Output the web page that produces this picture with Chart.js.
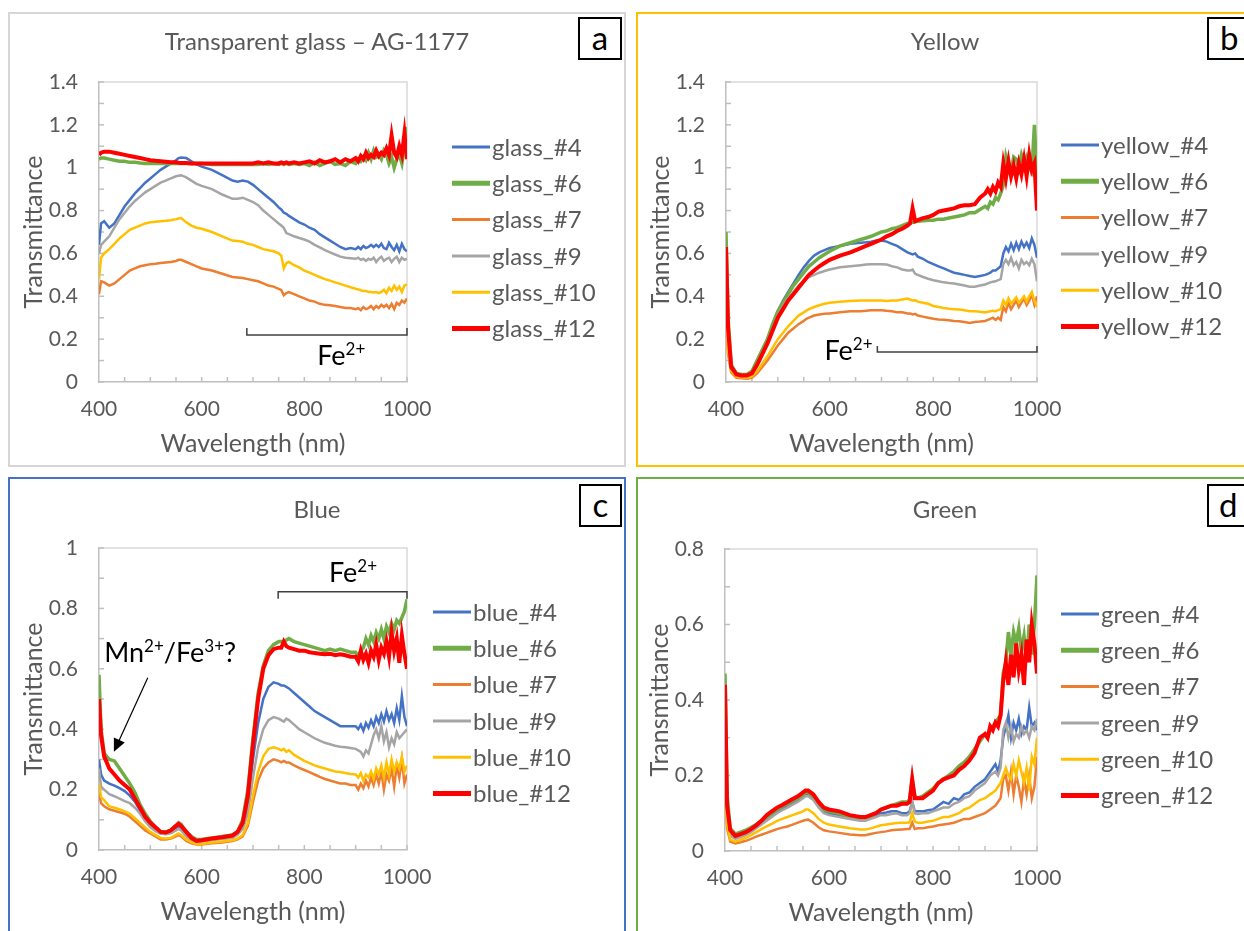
<!DOCTYPE html>
<html>
<head>
<meta charset="utf-8">
<script src="https://cdn.jsdelivr.net/npm/chart.js@4.4.1/dist/chart.umd.min.js"></script>
<style>
body { margin:0; background:#fff; width:1244px; height:931px; overflow:hidden; position:relative; font-family: Lato, "Open Sans", sans-serif; }
.panel { position:absolute; box-sizing:border-box; border:2px solid; }
canvas { position:absolute; }
.title { position:absolute; font-size:24px; line-height:24px; color:#595959; text-align:center; width:618px; }
.tag { position:absolute; box-sizing:border-box; border:2px solid #000; background:#fff; font-size:33px; line-height:36px; text-align:center; color:#000; }
</style>
</head>
<body>
<div class="panel" style="left:8px;top:12px;width:618px;height:455px;border-color:#d6d6d6"></div>
<div class="panel" style="left:636px;top:12px;width:618px;height:455px;border-color:#FFC000"></div>
<div class="panel" style="left:8px;top:477px;width:618px;height:470px;border-color:#4472C4"></div>
<div class="panel" style="left:636px;top:477px;width:618px;height:470px;border-color:#70AD47"></div>

<canvas id="chartA" width="618" height="455" style="left:8px;top:12px"></canvas>
<canvas id="chartB" width="618" height="455" style="left:636px;top:12px"></canvas>
<canvas id="chartC" width="618" height="454" style="left:8px;top:477px"></canvas>
<canvas id="chartD" width="618" height="454" style="left:636px;top:477px"></canvas>

<div class="title" style="left:8px;top:29px">Transparent glass – AG-1177</div>
<div class="title" style="left:636px;top:29px">Yellow</div>
<div class="title" style="left:8px;top:497px">Blue</div>
<div class="title" style="left:636px;top:497px">Green</div>

<div class="tag" style="left:578px;top:17px;width:44px;height:43px">a</div>
<div class="tag" style="left:1207px;top:17px;width:44px;height:43px;text-align:left;padding-left:11px">b</div>
<div class="tag" style="left:579px;top:484px;width:43px;height:43px">c</div>
<div class="tag" style="left:1207px;top:484px;width:44px;height:43px;text-align:left;padding-left:10px">d</div>

<script>
// wavelength grid (nm), shared by all panels
const wl = [400,404,410,420,430,440,450,460,470,480,490,
  500,510,520,530,540,550,555,560,570,580,590,
  600,620,640,660,670,680,690,
  700,710,720,730,740,750,755,760,765,770,780,790,
  800,810,820,830,840,850,860,870,880,890,
  900,905,910,915,920,925,930,935,940,945,950,955,960,965,970,975,980,985,990,995,1000];

const sampleIds = ['#4', '#6', '#7', '#9', '#10', '#12'];

// (a) transparent glass
const glass4 = [0.64,0.74,0.75,0.72,0.74,0.78,0.82,0.85,0.88,0.905,0.93,
  0.95,0.97,0.99,1.005,1.02,1.035,1.045,1.048,1.045,1.03,1.015,
  1.005,0.99,0.965,0.94,0.935,0.94,0.935,
  0.92,0.9,0.88,0.86,0.84,0.815,0.805,0.79,0.785,0.775,0.76,0.745,
  0.735,0.72,0.71,0.69,0.675,0.66,0.645,0.63,0.62,0.625,
  0.62,0.63,0.62,0.635,0.625,0.63,0.64,0.63,0.64,0.63,0.645,0.625,0.62,0.65,0.63,0.615,0.64,0.61,0.645,0.62,0.61];
const glass6 = [1.04,1.045,1.045,1.04,1.035,1.03,1.03,1.025,1.025,1.022,1.02,
  1.02,1.02,1.02,1.02,1.02,1.02,1.02,1.02,1.02,1.02,1.02,
  1.02,1.015,1.015,1.015,1.015,1.015,1.015,
  1.015,1.015,1.02,1.015,1.02,1.015,1.02,1.015,1.02,1.015,1.02,1.015,
  1.02,1.01,1.025,1.01,1.02,1.03,1.015,1.02,1.01,1.03,
  1.02,1.04,1.03,1.05,1.035,1.07,1.04,1.08,1.05,1.06,1.04,1.08,1.06,1.02,1.05,1.0,1.04,1.06,1.02,1.1,1.19];
const glass7 = [0.41,0.47,0.465,0.45,0.46,0.48,0.5,0.52,0.53,0.54,0.545,
  0.55,0.552,0.555,0.558,0.56,0.565,0.57,0.57,0.56,0.55,0.54,
  0.53,0.52,0.505,0.49,0.488,0.485,0.48,
  0.475,0.47,0.46,0.45,0.445,0.435,0.43,0.405,0.415,0.42,0.41,0.4,
  0.39,0.38,0.375,0.365,0.36,0.358,0.355,0.35,0.345,0.345,
  0.34,0.345,0.335,0.35,0.34,0.345,0.355,0.34,0.355,0.345,0.36,0.35,0.36,0.345,0.365,0.34,0.37,0.36,0.38,0.37,0.39];
const glass9 = [0.6,0.64,0.655,0.68,0.72,0.76,0.79,0.82,0.845,0.865,0.885,
  0.9,0.915,0.93,0.94,0.95,0.96,0.963,0.965,0.955,0.94,0.925,
  0.915,0.9,0.875,0.855,0.855,0.86,0.85,
  0.84,0.825,0.8,0.78,0.76,0.74,0.73,0.72,0.695,0.69,0.68,0.672,
  0.665,0.655,0.64,0.628,0.615,0.605,0.595,0.585,0.58,0.578,
  0.575,0.58,0.57,0.575,0.565,0.575,0.57,0.58,0.56,0.575,0.585,0.565,0.575,0.58,0.56,0.575,0.585,0.56,0.58,0.57,0.575];
const glass10 = [0.48,0.58,0.6,0.62,0.645,0.67,0.69,0.71,0.72,0.73,0.74,
  0.745,0.748,0.75,0.752,0.755,0.76,0.763,0.765,0.745,0.73,0.72,
  0.715,0.7,0.68,0.66,0.658,0.655,0.645,
  0.64,0.63,0.62,0.615,0.61,0.6,0.59,0.53,0.555,0.56,0.545,0.535,
  0.52,0.51,0.5,0.49,0.48,0.473,0.465,0.458,0.45,0.442,
  0.435,0.432,0.428,0.425,0.425,0.42,0.42,0.418,0.42,0.415,0.42,0.43,0.415,0.44,0.425,0.45,0.43,0.445,0.42,0.45,0.455];
const glass12 = [1.06,1.07,1.075,1.075,1.07,1.065,1.06,1.055,1.05,1.045,1.04,
  1.035,1.032,1.03,1.028,1.025,1.025,1.023,1.022,1.022,1.02,1.02,
  1.02,1.02,1.02,1.02,1.02,1.02,1.02,
  1.02,1.025,1.02,1.025,1.02,1.02,1.025,1.02,1.025,1.02,1.025,1.02,
  1.025,1.03,1.02,1.035,1.025,1.03,1.04,1.025,1.04,1.03,
  1.045,1.03,1.055,1.04,1.07,1.045,1.06,1.05,1.08,1.055,1.07,1.06,1.09,1.06,1.15,1.07,1.05,1.1,1.06,1.16,1.04];

// (b) yellow
const yellow4 = [0.45,0.2,0.06,0.03,0.03,0.03,0.045,0.09,0.15,0.2,0.27,
  0.33,0.38,0.42,0.46,0.5,0.535,0.55,0.565,0.59,0.605,0.615,
  0.625,0.635,0.645,0.65,0.652,0.655,0.66,
  0.66,0.655,0.645,0.635,0.62,0.605,0.6,0.595,0.6,0.585,0.575,0.56,
  0.55,0.54,0.53,0.52,0.51,0.505,0.5,0.495,0.49,0.495,
  0.5,0.505,0.51,0.52,0.52,0.53,0.54,0.6,0.63,0.61,0.645,0.615,0.65,0.62,0.655,0.63,0.65,0.625,0.67,0.64,0.58];
const yellow6 = [0.7,0.3,0.08,0.04,0.035,0.035,0.05,0.1,0.15,0.2,0.27,
  0.33,0.37,0.41,0.45,0.48,0.51,0.525,0.54,0.56,0.58,0.595,
  0.61,0.635,0.65,0.665,0.672,0.68,0.69,
  0.7,0.705,0.715,0.72,0.73,0.74,0.742,0.745,0.748,0.75,0.752,0.755,
  0.755,0.76,0.76,0.765,0.77,0.775,0.78,0.79,0.79,0.805,
  0.82,0.81,0.84,0.83,0.86,0.85,0.88,0.92,1.05,1.0,0.98,1.05,1.04,1.0,1.06,1.02,1.05,1.0,0.98,1.2,0.95];
const yellow7 = [0.3,0.13,0.045,0.02,0.017,0.015,0.02,0.04,0.07,0.1,0.135,
  0.17,0.2,0.23,0.25,0.27,0.285,0.295,0.3,0.31,0.315,0.318,
  0.32,0.325,0.33,0.33,0.332,0.335,0.335,
  0.335,0.332,0.33,0.325,0.325,0.32,0.32,0.315,0.318,0.31,0.305,0.3,
  0.295,0.292,0.29,0.288,0.285,0.283,0.28,0.275,0.28,0.282,
  0.285,0.29,0.295,0.3,0.29,0.3,0.29,0.35,0.33,0.37,0.34,0.36,0.38,0.35,0.37,0.39,0.36,0.38,0.41,0.36,0.4];
const yellow9 = [0.4,0.17,0.055,0.028,0.028,0.028,0.04,0.08,0.13,0.18,0.245,
  0.31,0.355,0.39,0.42,0.45,0.47,0.48,0.49,0.5,0.51,0.518,
  0.525,0.535,0.54,0.545,0.548,0.55,0.55,
  0.55,0.548,0.54,0.535,0.525,0.52,0.52,0.525,0.505,0.5,0.49,0.482,
  0.475,0.47,0.465,0.462,0.46,0.455,0.45,0.445,0.445,0.45,
  0.455,0.46,0.465,0.468,0.47,0.475,0.48,0.55,0.57,0.55,0.58,0.545,0.56,0.53,0.57,0.55,0.56,0.545,0.575,0.55,0.47];
const yellow10 = [0.35,0.15,0.05,0.025,0.022,0.02,0.025,0.05,0.085,0.12,0.16,
  0.2,0.23,0.26,0.285,0.31,0.325,0.333,0.34,0.35,0.358,0.365,
  0.37,0.375,0.378,0.38,0.38,0.38,0.38,
  0.38,0.378,0.38,0.38,0.385,0.39,0.385,0.38,0.382,0.375,0.37,0.365,
  0.355,0.35,0.345,0.342,0.34,0.338,0.335,0.33,0.33,0.328,
  0.325,0.328,0.33,0.332,0.33,0.335,0.34,0.38,0.36,0.39,0.365,0.38,0.395,0.37,0.385,0.4,0.375,0.4,0.42,0.38,0.35];
const yellow12 = [0.63,0.25,0.07,0.035,0.03,0.03,0.04,0.08,0.13,0.18,0.24,
  0.3,0.34,0.38,0.41,0.44,0.47,0.485,0.5,0.52,0.54,0.555,
  0.57,0.59,0.605,0.625,0.635,0.645,0.655,
  0.665,0.68,0.69,0.705,0.715,0.73,0.74,0.81,0.75,0.755,0.765,0.77,
  0.78,0.795,0.8,0.805,0.81,0.82,0.825,0.825,0.83,0.86,
  0.88,0.9,0.88,0.91,0.89,0.93,0.91,1.02,0.95,1.03,0.96,1.01,0.95,1.02,0.97,1.04,0.96,1.06,0.99,1.02,0.8];

// (c) blue
const blue4 = [0.3,0.25,0.23,0.22,0.213,0.205,0.195,0.18,0.16,0.13,0.1,
  0.08,0.065,0.055,0.055,0.06,0.072,0.078,0.075,0.055,0.035,0.028,
  0.03,0.035,0.04,0.045,0.055,0.08,0.15,
  0.3,0.42,0.5,0.54,0.555,0.55,0.545,0.545,0.54,0.535,0.52,0.505,
  0.49,0.475,0.46,0.45,0.44,0.43,0.42,0.41,0.41,0.41,
  0.41,0.4,0.415,0.395,0.42,0.405,0.43,0.41,0.44,0.42,0.45,0.425,0.46,0.43,0.45,0.42,0.47,0.43,0.51,0.44,0.41];
const blue6 = [0.58,0.4,0.32,0.3,0.295,0.27,0.245,0.22,0.19,0.15,0.12,
  0.095,0.075,0.06,0.06,0.065,0.08,0.09,0.085,0.06,0.045,0.035,
  0.035,0.04,0.045,0.05,0.06,0.1,0.2,
  0.37,0.52,0.61,0.66,0.68,0.69,0.69,0.69,0.695,0.7,0.69,0.685,
  0.68,0.675,0.67,0.665,0.66,0.665,0.66,0.665,0.66,0.655,
  0.655,0.64,0.66,0.67,0.7,0.68,0.71,0.69,0.72,0.7,0.73,0.7,0.74,0.72,0.75,0.73,0.76,0.75,0.77,0.79,0.83];
const blue7 = [0.19,0.155,0.145,0.135,0.13,0.125,0.12,0.11,0.095,0.08,0.065,
  0.055,0.045,0.035,0.035,0.038,0.045,0.05,0.045,0.03,0.022,0.018,
  0.018,0.022,0.025,0.03,0.035,0.045,0.08,
  0.16,0.23,0.27,0.29,0.3,0.295,0.29,0.295,0.29,0.29,0.28,0.272,
  0.265,0.258,0.25,0.242,0.235,0.23,0.225,0.22,0.22,0.215,
  0.215,0.2,0.22,0.205,0.23,0.21,0.24,0.215,0.25,0.22,0.26,0.2,0.25,0.23,0.27,0.21,0.28,0.24,0.3,0.22,0.25];
const blue9 = [0.27,0.21,0.2,0.185,0.178,0.17,0.162,0.155,0.14,0.12,0.095,
  0.075,0.062,0.055,0.052,0.055,0.065,0.07,0.065,0.045,0.03,0.025,
  0.028,0.032,0.036,0.04,0.05,0.07,0.12,
  0.24,0.34,0.4,0.43,0.44,0.435,0.43,0.425,0.435,0.43,0.415,0.4,
  0.39,0.38,0.37,0.362,0.355,0.35,0.345,0.342,0.34,0.338,
  0.335,0.33,0.325,0.31,0.33,0.32,0.35,0.38,0.4,0.37,0.41,0.36,0.39,0.34,0.37,0.35,0.39,0.37,0.38,0.39,0.4];
const blue10 = [0.22,0.175,0.165,0.145,0.14,0.135,0.128,0.12,0.105,0.09,0.075,
  0.06,0.05,0.04,0.038,0.04,0.05,0.055,0.05,0.035,0.025,0.02,
  0.02,0.025,0.028,0.032,0.038,0.05,0.09,
  0.18,0.26,0.31,0.335,0.34,0.335,0.33,0.335,0.325,0.33,0.315,0.305,
  0.295,0.288,0.28,0.275,0.27,0.265,0.26,0.258,0.255,0.252,
  0.25,0.24,0.255,0.23,0.25,0.24,0.26,0.235,0.27,0.25,0.28,0.24,0.29,0.25,0.3,0.26,0.29,0.27,0.31,0.26,0.28];
const blue12 = [0.5,0.38,0.31,0.27,0.25,0.23,0.215,0.2,0.17,0.14,0.11,
  0.09,0.075,0.06,0.058,0.065,0.08,0.087,0.08,0.06,0.04,0.03,
  0.032,0.038,0.042,0.048,0.06,0.09,0.18,
  0.35,0.5,0.6,0.645,0.665,0.67,0.67,0.69,0.675,0.67,0.665,0.66,
  0.66,0.655,0.652,0.65,0.648,0.65,0.645,0.648,0.645,0.64,
  0.64,0.625,0.66,0.63,0.65,0.62,0.66,0.64,0.68,0.63,0.67,0.65,0.69,0.64,0.72,0.66,0.7,0.62,0.71,0.65,0.6];

// (d) green
const green4 = [0.3,0.1,0.045,0.035,0.04,0.045,0.055,0.065,0.075,0.085,0.095,
  0.105,0.112,0.12,0.128,0.135,0.145,0.15,0.15,0.14,0.12,0.105,
  0.1,0.095,0.088,0.083,0.083,0.088,0.095,
  0.1,0.102,0.105,0.105,0.1,0.1,0.105,0.13,0.105,0.105,0.105,0.108,
  0.11,0.12,0.13,0.125,0.14,0.135,0.15,0.155,0.17,0.18,
  0.19,0.2,0.21,0.22,0.23,0.21,0.24,0.3,0.33,0.36,0.3,0.34,0.32,0.35,0.31,0.33,0.32,0.38,0.33,0.34,0.32];
const green6 = [0.47,0.15,0.06,0.045,0.05,0.055,0.062,0.07,0.08,0.09,0.1,
  0.11,0.118,0.125,0.133,0.14,0.15,0.155,0.155,0.145,0.125,0.11,
  0.105,0.1,0.09,0.085,0.085,0.09,0.1,
  0.11,0.115,0.12,0.125,0.13,0.13,0.135,0.19,0.145,0.14,0.145,0.155,
  0.165,0.18,0.19,0.2,0.21,0.225,0.235,0.25,0.27,0.29,
  0.31,0.3,0.32,0.33,0.34,0.35,0.36,0.47,0.5,0.58,0.52,0.58,0.55,0.59,0.53,0.57,0.5,0.6,0.52,0.6,0.73];
const green7 = [0.18,0.06,0.025,0.02,0.023,0.027,0.032,0.038,0.043,0.048,0.053,
  0.058,0.062,0.065,0.07,0.075,0.08,0.082,0.083,0.075,0.063,0.055,
  0.052,0.048,0.044,0.042,0.042,0.045,0.048,
  0.05,0.052,0.055,0.056,0.057,0.058,0.058,0.075,0.058,0.06,0.06,0.063,
  0.065,0.068,0.07,0.072,0.075,0.08,0.085,0.085,0.09,0.095,
  0.1,0.105,0.11,0.115,0.12,0.13,0.14,0.19,0.2,0.16,0.21,0.15,0.2,0.17,0.13,0.19,0.15,0.2,0.14,0.17,0.25];
const green9 = [0.25,0.09,0.04,0.032,0.037,0.042,0.05,0.06,0.07,0.08,0.09,
  0.1,0.108,0.115,0.123,0.13,0.14,0.145,0.145,0.135,0.115,0.1,
  0.095,0.09,0.085,0.08,0.08,0.085,0.09,
  0.095,0.095,0.098,0.1,0.095,0.095,0.1,0.13,0.1,0.098,0.1,0.1,
  0.105,0.11,0.115,0.115,0.125,0.13,0.14,0.145,0.16,0.17,
  0.18,0.19,0.2,0.205,0.21,0.2,0.22,0.32,0.34,0.3,0.33,0.29,0.31,0.3,0.33,0.31,0.32,0.3,0.33,0.32,0.35];
const green10 = [0.2,0.07,0.03,0.025,0.03,0.035,0.042,0.05,0.058,0.065,0.072,
  0.08,0.085,0.09,0.095,0.1,0.105,0.11,0.11,0.1,0.085,0.075,
  0.07,0.065,0.06,0.057,0.057,0.06,0.064,
  0.068,0.07,0.072,0.074,0.075,0.075,0.076,0.1,0.078,0.075,0.075,0.078,
  0.08,0.085,0.09,0.09,0.095,0.1,0.11,0.115,0.125,0.135,
  0.14,0.145,0.15,0.155,0.16,0.17,0.18,0.2,0.22,0.2,0.19,0.23,0.2,0.24,0.21,0.18,0.22,0.16,0.25,0.23,0.3];
const green12 = [0.44,0.12,0.055,0.04,0.045,0.05,0.058,0.068,0.08,0.095,0.105,
  0.115,0.122,0.13,0.138,0.145,0.155,0.16,0.16,0.15,0.13,0.115,
  0.11,0.105,0.095,0.09,0.09,0.095,0.1,
  0.11,0.115,0.12,0.12,0.125,0.125,0.13,0.19,0.14,0.14,0.14,0.15,
  0.16,0.18,0.19,0.195,0.2,0.215,0.225,0.24,0.26,0.3,
  0.31,0.3,0.33,0.32,0.34,0.33,0.36,0.45,0.5,0.44,0.52,0.46,0.55,0.48,0.52,0.44,0.56,0.5,0.6,0.55,0.47];

const lineColors = ['#4472C4', '#70AD47', '#ED7D31', '#A5A5A5', '#FFC000', '#FF0000'];
const lineWidths = [2.5, 3.5, 2.5, 2.5, 2.5, 4];
const legendWidths = [3, 5, 3, 3, 3, 5];

const FONT = 'Lato, "Open Sans", sans-serif';
Chart.defaults.font.family = FONT;
Chart.defaults.color = '#595959';

// draws ion labels such as Fe2+ with raised charge
function drawIon(ctx, x, y, parts, size) {
  let cx = x;
  ctx.textBaseline = 'alphabetic';
  ctx.textAlign = 'left';
  ctx.fillStyle = '#000';
  parts.forEach(p => {
    const sup = p.sup;
    const fs = sup ? Math.round(size * 0.62) : size;
    ctx.font = fs + 'px ' + FONT;
    ctx.fillText(p.t, cx, sup ? y - size * 0.38 : y);
    cx += ctx.measureText(p.t).width;
  });
}

const decor = {
  id: 'decor',
  beforeDatasetsDraw(chart) {
    const {ctx, chartArea: ca, scales: {x, y}} = chart;
    ctx.save();
    ctx.strokeStyle = '#d9d9d9';
    ctx.lineWidth = 1.5;
    ctx.beginPath();
    ctx.moveTo(ca.left, ca.top);
    ctx.lineTo(ca.right, ca.top);
    ctx.lineTo(ca.right, ca.bottom);
    ctx.stroke();
    // small inside tick marks
    ctx.strokeStyle = '#bfbfbf';
    for (let k = 0; k <= Math.round(y.max * 10); k++) {
      const py = y.getPixelForValue(k / 10);
      ctx.beginPath(); ctx.moveTo(ca.left, py); ctx.lineTo(ca.left + 5, py); ctx.stroke();
    }
    for (let w = 450; w <= 1000; w += 50) {
      const px = x.getPixelForValue(w);
      ctx.beginPath(); ctx.moveTo(px, ca.bottom); ctx.lineTo(px, ca.bottom - 5); ctx.stroke();
    }
    ctx.restore();
  },
  afterDatasetsDraw(chart, args, opts) {
    const {ctx, chartArea: ca, scales: {x, y}} = chart;
    ctx.save();
    // legend
    const lg = opts.legend;
    chart.data.datasets.forEach((ds, i) => {
      const ly = ca.top + lg.dy + i * lg.gap;
      const lx = ca.right + lg.dx;
      ctx.strokeStyle = ds.borderColor;
      ctx.lineWidth = legendWidths[i];
      ctx.beginPath(); ctx.moveTo(lx, ly); ctx.lineTo(lx + 38, ly); ctx.stroke();
      ctx.fillStyle = '#595959';
      ctx.font = '24px ' + FONT;
      ctx.textBaseline = 'middle';
      ctx.textAlign = 'left';
      ctx.fillText(ds.label, lx + 40, ly + 1);
    });
    // bracket
    (opts.brackets || []).forEach(b => {
      const x1 = x.getPixelForValue(b.x1), x2 = x.getPixelForValue(b.x2), py = y.getPixelForValue(b.y);
      ctx.strokeStyle = '#404040';
      ctx.lineWidth = 1.5;
      ctx.beginPath();
      ctx.moveTo(x1, py + b.tick); ctx.lineTo(x1, py); ctx.lineTo(x2, py); ctx.lineTo(x2, py + b.tick);
      ctx.stroke();
    });
    (opts.labels || []).forEach(l => {
      drawIon(ctx, x.getPixelForValue(l.x), y.getPixelForValue(l.y), l.parts, l.size);
    });
    (opts.arrows || []).forEach(a => {
      const x1 = x.getPixelForValue(a.x1), y1 = y.getPixelForValue(a.y1);
      const x2 = x.getPixelForValue(a.x2), y2 = y.getPixelForValue(a.y2);
      const ang = Math.atan2(y2 - y1, x2 - x1);
      ctx.strokeStyle = '#000'; ctx.fillStyle = '#000'; ctx.lineWidth = 1.2;
      ctx.beginPath(); ctx.moveTo(x1, y1);
      ctx.lineTo(x2 - 10 * Math.cos(ang), y2 - 10 * Math.sin(ang)); ctx.stroke();
      ctx.beginPath();
      ctx.moveTo(x2, y2);
      ctx.lineTo(x2 - 13 * Math.cos(ang) + 6 * Math.sin(ang), y2 - 13 * Math.sin(ang) - 6 * Math.cos(ang));
      ctx.lineTo(x2 - 13 * Math.cos(ang) - 6 * Math.sin(ang), y2 - 13 * Math.sin(ang) + 6 * Math.cos(ang));
      ctx.closePath(); ctx.fill();
    });
    ctx.restore();
  }
};

function makeChart(id, prefix, series, yMax, pad, decorOpts) {
  const ctx = document.getElementById(id).getContext('2d');
  return new Chart(ctx, {
    type: 'line',
    data: {
      datasets: series.map((s, i) => ({
        label: prefix + '_' + sampleIds[i],
        data: s.map((v, k) => ({x: wl[k], y: v})),
        borderColor: lineColors[i],
        backgroundColor: lineColors[i],
        borderWidth: lineWidths[i],
        pointRadius: 0,
        tension: 0,
        order: 5 - i
      }))
    },
    options: {
      responsive: false,
      animation: false,
      events: [],
      layout: { padding: pad },
      plugins: {
        legend: { display: false },
        tooltip: { enabled: false },
        decor: decorOpts
      },
      scales: {
        x: {
          type: 'linear',
          min: 400,
          max: 1000,
          afterFit: s => { s.height = 80; },
          ticks: { stepSize: 200, padding: 15, font: { size: 21 }, callback: v => String(v) },
          grid: { drawOnChartArea: false, drawTicks: false },
          border: { color: '#bfbfbf', width: 1.5 },
          title: { display: true, text: 'Wavelength (nm)', font: { size: 25 }, padding: { top: 0, bottom: 3 } }
        },
        y: {
          min: 0,
          max: yMax,
          afterFit: s => { s.width = 80; },
          ticks: { stepSize: 0.2, padding: 21, font: { size: 21 }, callback: v => String(Math.round(v * 10) / 10) },
          grid: { drawOnChartArea: false, drawTicks: false },
          border: { color: '#bfbfbf', width: 1.5 },
          title: { display: true, text: 'Transmittance', font: { size: 25 }, padding: { top: 0, bottom: 0 } }
        }
      }
    },
    plugins: [decor]
  });
}

makeChart('chartA', 'glass', [glass4, glass6, glass7, glass9, glass10, glass12], 1.4,
  { left: 11, right: 219, top: 70, bottom: 5 },
  {
    legend: { dx: 45, dy: 65, gap: 36.3 },
    brackets: [{ x1: 688, x2: 1000, y: 0.219, tick: -7 }],
    labels: [{ x: 825, y: 0.079, size: 27, parts: [{t: 'Fe'}, {t: '2+', sup: true}] }]
  });

makeChart('chartB', 'yellow', [yellow4, yellow6, yellow7, yellow9, yellow10, yellow12], 1.4,
  { left: 10, right: 217, top: 70, bottom: 5 },
  {
    legend: { dx: 24, dy: 63, gap: 36.3 },
    brackets: [{ x1: 692, x2: 1000, y: 0.14, tick: -6 }],
    labels: [{ x: 590, y: 0.103, size: 27, parts: [{t: 'Fe'}, {t: '2+', sup: true}] }]
  });

makeChart('chartC', 'blue', [blue4, blue6, blue7, blue9, blue10, blue12], 1,
  { left: 11, right: 219, top: 71, bottom: 1 },
  {
    legend: { dx: 26, dy: 64, gap: 36.3 },
    brackets: [{ x1: 749, x2: 1000, y: 0.855, tick: 7 }],
    labels: [
      { x: 848, y: 0.887, size: 27, parts: [{t: 'Fe'}, {t: '2+', sup: true}] },
      { x: 410, y: 0.623, size: 27, parts: [{t: 'Mn'}, {t: '2+', sup: true}, {t: '/Fe'}, {t: '3+', sup: true}, {t: '?'}] }
    ],
    arrows: [{ x1: 495, y1: 0.57, x2: 429, y2: 0.325 }]
  });

makeChart('chartD', 'green', [green4, green6, green7, green9, green10, green12], 0.8,
  { left: 9, right: 217, top: 72, bottom: 0 },
  {
    legend: { dx: 24, dy: 65, gap: 36.3 }
  });
</script>
</body>
</html>
